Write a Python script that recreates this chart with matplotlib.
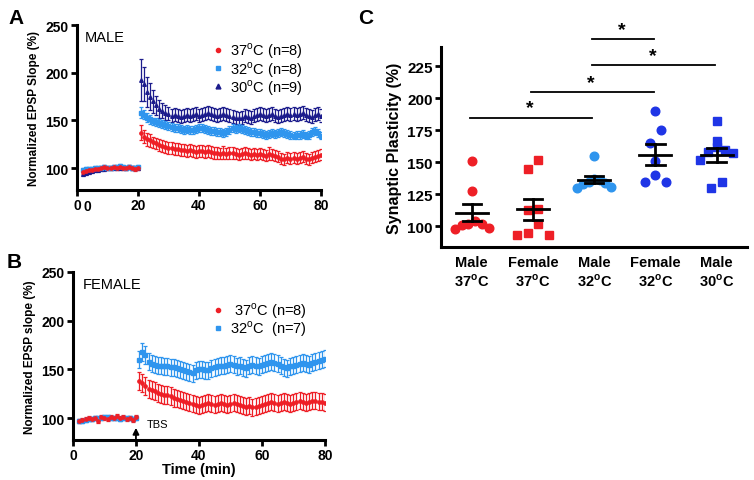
import numpy as np
import matplotlib
matplotlib.use('Agg')
import matplotlib.pyplot as plt
from matplotlib.lines import Line2D

plt.rcParams['font.family'] = ['Liberation Sans', 'DejaVu Sans']
plt.rcParams['mathtext.fontset'] = 'custom'
plt.rcParams['mathtext.rm'] = 'Liberation Sans'
plt.rcParams['mathtext.bf'] = 'Liberation Sans:bold'

# ---------------------------------------------------------------------------
# data
# ---------------------------------------------------------------------------
time_min = np.arange(2, 81)  # one sample per minute, TBS at 20 min

# panel A (male)
a37_mean = [96, 97, 98, 98, 99, 99, 100, 101, 100, 100, 101, 100, 101, 100, 100, 101, 100, 99, 100,
            137, 133, 130, 129, 127, 126, 124, 123, 122, 121,
            121, 120, 120, 119, 119, 118, 119, 118, 117, 118,
            118, 117, 118, 117, 116, 116, 115, 116, 115, 116,
            116, 115, 114, 115, 116, 115, 114, 115, 114, 115,
            114, 113, 115, 114, 113, 112, 110, 109, 111, 110,
            111, 110, 111, 112, 110, 109, 111, 112, 113, 114]
a37_sem = [2] * 19 + [8, 7, 7, 7, 6, 6, 6, 6, 6, 6] + [6] * 17 + [7] + [6] * 14 + [7] + [6] * 17
a32_mean = [98, 99, 99, 99, 100, 100, 100, 101, 100, 100, 101, 101, 102, 101, 100, 101, 100, 100, 101,
            158, 156, 153, 151, 149, 148, 147, 146, 145, 144,
            143, 142, 142, 141, 140, 141, 140, 140, 141, 142,
            142, 141, 140, 139, 139, 138, 138, 137, 138, 140,
            142, 141, 142, 141, 140, 139, 138, 138, 137, 137,
            136, 135, 136, 137, 136, 137, 138, 137, 136, 135,
            134, 135, 135, 136, 134, 135, 138, 139, 137, 134]
a32_sem = [2] * 19 + [6, 5, 5, 5] + [4] * 56
a30_mean = [94, 95, 96, 97, 98, 98, 99, 99, 100, 100, 100, 100, 100, 100, 100, 101, 100, 100, 100,
            192, 188, 180, 175, 170, 166, 162, 160, 158, 157,
            155, 156, 155, 154, 155, 156, 155, 156, 157, 155,
            156, 157, 158, 157, 156, 155, 156, 157, 156, 155,
            154, 153, 152, 153, 155, 154, 153, 155, 156, 157,
            156, 155, 156, 157, 155, 154, 155, 156, 157, 156,
            157, 156, 157, 158, 156, 155, 154, 156, 157, 155]
a30_sem = [2] * 19 + [22, 18, 16, 14, 12, 10, 9, 8, 8, 7] + [7] * 50

# panel B (female)
b37_mean = [97, 98, 99, 100, 99, 100, 97, 101, 100, 99, 101, 100, 102, 100, 101, 99, 100, 98, 101,
            138, 136, 133, 130, 129, 128, 126, 125, 124, 124,
            123, 121, 120, 119, 118, 117, 116, 115, 114, 113,
            114, 115, 116, 115, 114, 115, 116, 115, 114, 115,
            116, 115, 114, 113, 112, 113, 111, 112, 113, 114,
            115, 116, 117, 116, 115, 116, 117, 116, 115, 116,
            117, 118, 117, 116, 117, 118, 118, 117, 117, 116]
b37_sem = [2] * 19 + [9] * 60
b32_mean = [97, 97, 98, 99, 99, 100, 100, 100, 101, 101, 100, 100, 100, 99, 100, 100, 100, 99, 100,
            160, 168, 165, 158, 156, 155, 154, 154, 153, 153,
            152, 152, 151, 150, 149, 148, 147, 146, 149, 150,
            150, 149, 149, 151, 152, 153, 154, 154, 155, 156,
            155, 153, 154, 152, 151, 154, 155, 154, 153, 155,
            156, 157, 158, 157, 156, 154, 152, 151, 153, 154,
            155, 156, 157, 156, 155, 157, 158, 159, 160, 161]
b32_sem = [2] * 19 + [9] * 60

# panel C (synaptic plasticity per animal)
groups = ['Male\n37$^{\\mathbf{o}}$C', 'Female\n37$^{\\mathbf{o}}$C', 'Male\n32$^{\\mathbf{o}}$C',
          'Female\n32$^{\\mathbf{o}}$C', 'Male\n30$^{\\mathbf{o}}$C']
male37 = [151, 128, 104, 102, 102, 101, 99, 98]
female37 = [152, 145, 113.5, 112.5, 102, 95, 93.5, 93.5]
male32 = [155, 137, 136, 135, 134, 133, 131, 130]
female32 = [190, 175, 165.5, 151, 140, 134.5, 134.5]
male30 = [182, 167, 162, 160, 158, 157, 152, 135, 130]
# significance bars: (group from, group to, height)
sig_pairs = [(0, 2, 185), (1, 3, 205), (2, 4, 226), (2, 3, 246)]

RED = '#ee1f26'
LBLUE = '#2f95ee'
NAVY = '#1c1c8c'
BLUE = '#1f35e6'


def style_axis(ax, size=10):
    for s in ['top', 'right']:
        ax.spines[s].set_visible(False)
    for s in ['left', 'bottom']:
        ax.spines[s].set_linewidth(2.2)
    ax.tick_params(width=2, length=4, labelsize=size, pad=2)
    for lab in ax.get_xticklabels() + ax.get_yticklabels():
        lab.set_fontweight('bold')


def ts(ax, mean, sem, color, marker, ms):
    ax.errorbar(time_min, mean, yerr=sem, fmt=marker, ms=ms, color=color, ecolor=color,
                elinewidth=0.9, capsize=1.6, capthick=0.9, mec=color)


def spread(vals, center, binh=10.0, dx=0.17, maxw=0.55):
    # points with close values are laid out side by side in one row
    vals = np.asarray(vals, dtype=float)
    order = np.argsort(vals)
    xs = np.zeros(len(vals))
    rows, cur = [], [order[0]]
    for i in order[1:]:
        if vals[i] - vals[cur[0]] <= binh:
            cur.append(i)
        else:
            rows.append(cur)
            cur = [i]
    rows.append(cur)
    for row in rows:
        n = len(row)
        step = dx if n < 2 else min(dx, maxw / (n - 1))
        # zigzag the slots so a row doesn't look like a ramp
        slots = []
        lo, hi = 0, n - 1
        while lo <= hi:
            slots.append(lo)
            if hi != lo:
                slots.append(hi)
            lo += 1
            hi -= 1
        for k, i in zip(slots, row):
            xs[i] = center + (k - (n - 1) / 2) * step
    return xs


fig = plt.figure(figsize=(7.54, 4.81), dpi=100)

# ---------------------------------------------------------------- panel A
axA = fig.add_axes([0.1021, 0.6029, 0.3236, 0.343])
ts(axA, a30_mean, a30_sem, NAVY, '^', 2.6)
ts(axA, a32_mean, a32_sem, LBLUE, 's', 2.4)
ts(axA, a37_mean, a37_sem, RED, 'o', 2.4)
axA.set_xlim(0, 80)
axA.set_ylim(77, 250)
axA.set_xticks([0, 20, 40, 60, 80])
axA.set_yticks([100, 150, 200, 250])
axA.set_ylabel('Normalized EPSP Slope (%)', fontsize=8.5, fontweight='bold')
style_axis(axA)
axA.text(0.033, 0.925, 'MALE', transform=axA.transAxes, fontsize=10.5, va='center')
axA.text(3.3, -0.055, '0', transform=axA.get_xaxis_transform(), fontsize=10,
         fontweight='bold', ha='center', va='top')
hA = [Line2D([], [], ls='', marker='o', ms=3, color=RED),
      Line2D([], [], ls='', marker='s', ms=3, color=LBLUE),
      Line2D([], [], ls='', marker='^', ms=3.5, color=NAVY)]
axA.legend(hA, ['37$^{\\mathrm{o}}$C (n=8)', '32$^{\\mathrm{o}}$C (n=8)', '30$^{\\mathrm{o}}$C (n=9)'],
           loc='upper left', bbox_to_anchor=(0.555, 0.905), frameon=False, fontsize=10.5,
           handlelength=0.7, handletextpad=0.5, labelspacing=-0.1, borderaxespad=0, borderpad=0)
fig.text(16 / 754, 1 - 18 / 481, 'A', fontsize=15, fontweight='bold', ha='center', va='center')

# ---------------------------------------------------------------- panel B
axB = fig.add_axes([0.0968, 0.0838, 0.334, 0.349])
ts(axB, b32_mean, b32_sem, LBLUE, 's', 2.4)
ts(axB, b37_mean, b37_sem, RED, 'o', 2.4)
axB.set_xlim(0, 80)
axB.set_ylim(78, 250)
axB.set_xticks([0, 20, 40, 60, 80])
axB.set_yticks([100, 150, 200, 250])
axB.set_ylabel('Normalized EPSP slope (%)', fontsize=8.5, fontweight='bold')
axB.set_xlabel('Time (min)', fontsize=10.5, fontweight='bold', labelpad=0)
style_axis(axB)
axB.text(0.04, 0.93, 'FEMALE', transform=axB.transAxes, fontsize=10.5, va='center')
axB.annotate('', xy=(20, 93), xytext=(20, 74), annotation_clip=False,
             arrowprops=dict(arrowstyle='-|>', color='k', lw=1.3, mutation_scale=9))
axB.text(23.5, 94, 'TBS', fontsize=8, va='center', ha='left')
hB = [Line2D([], [], ls='', marker='o', ms=3, color=RED),
      Line2D([], [], ls='', marker='s', ms=3, color=LBLUE)]
axB.legend(hB, [' 37$^{\\mathrm{o}}$C (n=8)', '32$^{\\mathrm{o}}$C  (n=7)'],
           loc='upper left', bbox_to_anchor=(0.555, 0.83), frameon=False, fontsize=10.5,
           handlelength=0.7, handletextpad=0.5, labelspacing=-0.1, borderaxespad=0, borderpad=0)
fig.text(14 / 754, 1 - 262 / 481, 'B', fontsize=15, fontweight='bold', ha='center', va='center')

# ---------------------------------------------------------------- panel C
axC = fig.add_axes([0.585, 0.4844, 0.406, 0.4158])
sets = [(male37, RED, 'o'), (female37, RED, 's'), (male32, LBLUE, 'o'),
        (female32, BLUE, 'o'), (male30, BLUE, 's')]
for i, (vals, col, mk) in enumerate(sets):
    vals = np.array(vals, dtype=float)
    axC.plot(spread(vals, i), vals, ls='', marker=mk, ms=6.2 if mk == 'o' else 5.6,
             color=col, mec=col, zorder=2)
    m = vals.mean()
    se = vals.std(ddof=1) / np.sqrt(len(vals))
    axC.plot([i - 0.26, i + 0.26], [m, m], color='k', lw=2, zorder=3)
    axC.plot([i, i], [m - se, m + se], color='k', lw=2, zorder=3)
    for yv in (m - se, m + se):
        axC.plot([i - 0.15, i + 0.15], [yv, yv], color='k', lw=2, zorder=3)

for g0, g1, h in sig_pairs:
    axC.plot([g0 - 0.03, g1 - 0.03], [h, h], color='k', lw=1.3, clip_on=False)
    axC.text((g0 + g1) / 2 - 0.05, h + 1, '*', fontsize=14, fontweight='bold',
             ha='center', va='bottom')

axC.set_xlim(-0.5, 4.5)
axC.set_ylim(84, 240)
axC.set_yticks([100, 125, 150, 175, 200, 225])
axC.set_xticks(range(5))
axC.set_xticklabels(groups)
axC.set_ylabel('Synaptic Plasticity (%)', fontsize=11.5, fontweight='bold')
style_axis(axC, size=11)
axC.tick_params(axis='x', length=0, labelsize=10.5, pad=6)
for lab in axC.get_yticklabels() + axC.get_xticklabels():
    lab.set_fontweight('bold')
fig.text(366 / 754, 1 - 18 / 481, 'C', fontsize=15, fontweight='bold', ha='center', va='center')

fig.savefig('out.png', dpi=100)
